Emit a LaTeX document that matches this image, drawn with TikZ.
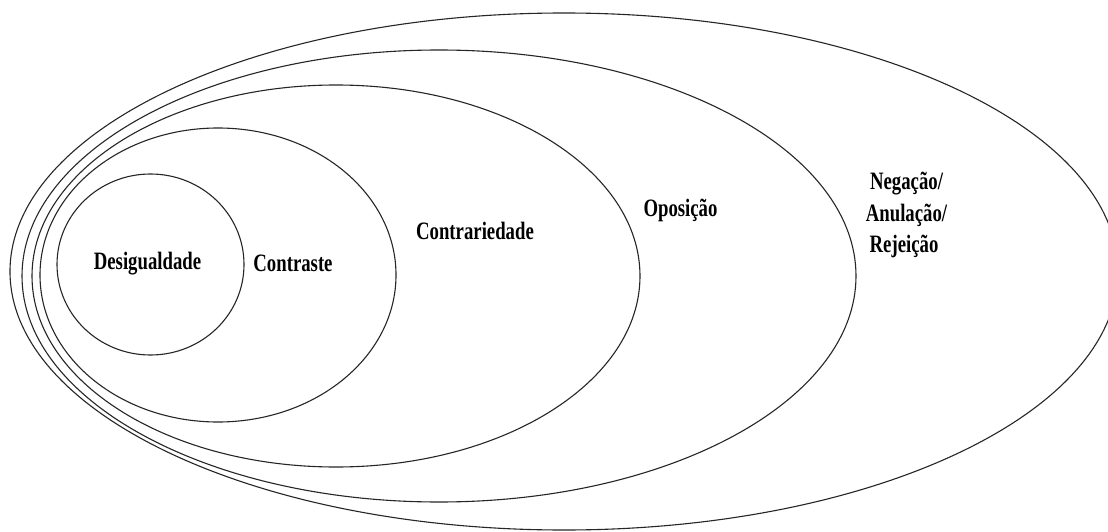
\documentclass[tikz,border=0pt]{standalone}
\usepackage{fontspec}
\usepackage{graphicx}
\setmainfont{Liberation Serif}
% condensed bold label text
\newcommand{\narrowlabel}[1]{\scalebox{0.75}[1]{\bfseries #1}}
\begin{document}
\begin{tikzpicture}[x=1pt,y=-1pt,
  ring/.style={draw=black!85,line width=1.1pt},
  lbl/.style={font=\fontsize{25}{32}\selectfont,anchor=base,inner sep=0pt,align=center}]
\useasboundingbox (0,0) rectangle (1108,532);
\fill[white] (0,0) rectangle (1108,532);
\begin{scope}
\clip (0,0) rectangle (1108,532);
% nested ellipses, outermost first
\draw[ring] (564,271.5) ellipse [x radius=554,y radius=258.5];
\draw[ring] (439,276) ellipse [x radius=417,y radius=226];
\draw[ring] (336,276) ellipse [x radius=304,y radius=191];
\draw[ring] (218,275) ellipse [x radius=178,y radius=147];
\draw[ring] (150.5,264.5) ellipse [x radius=93.5,y radius=90.5];
\end{scope}
% labels
\node[lbl] (desig) at (147.5,269) {\narrowlabel{Desigualdade}};
\node[lbl] (contraste) at (293,271) {\narrowlabel{Contraste}};
\node[lbl] (contrar) at (475,239) {\narrowlabel{Contrariedade}};
\node[lbl] (oposicao) at (680.5,216) {\narrowlabel{Oposição}};
\node[lbl] (negacao) at (906.5,189) {\narrowlabel{Negação/}};
\node[lbl] (anulacao) at (906.5,221) {\narrowlabel{Anulação/}};
\node[lbl] (rejeicao) at (904,252) {\narrowlabel{Rejeição}};
\end{tikzpicture}
\end{document}
